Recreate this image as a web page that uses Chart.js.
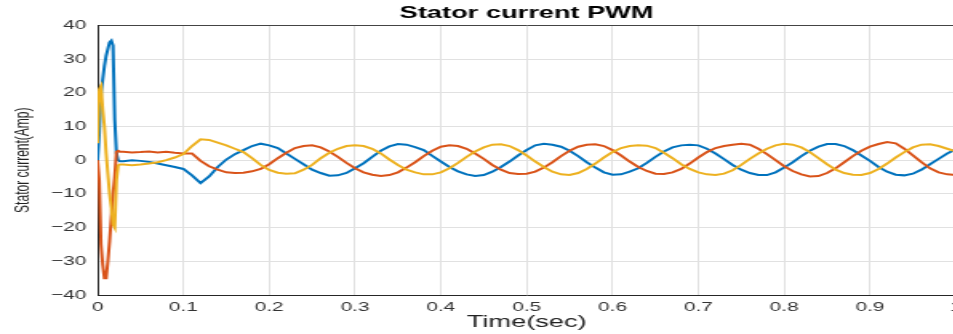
<!DOCTYPE html>
<html>
<head>
<meta charset="utf-8">
<title>Stator current PWM</title>
<script src="https://cdn.jsdelivr.net/npm/chart.js@4.4.1/dist/chart.umd.min.js"></script>
<style>
html, body { margin: 0; padding: 0; background: #fff; overflow: hidden; }
/* the original figure is stretched sideways, so the chart is drawn narrow and widened */
#wrap { width: 606px; height: 334px; transform: scaleX(1.6); transform-origin: 0 0; }
</style>
</head>
<body>
<div id="wrap"><canvas id="statorChart" width="606" height="334"></canvas></div>
<script>
// Time axis (sec) - fine steps through the start-up transient
const timeSec = [0, 0.002, 0.004, 0.006, 0.008, 0.01, 0.012, 0.014, 0.016, 0.018, 0.02, 0.022, 0.024, 0.026,
    0.03, 0.04, 0.05, 0.06, 0.07, 0.08, 0.09, 0.10,
    0.11, 0.12, 0.13, 0.14, 0.15, 0.16, 0.17, 0.18, 0.19, 0.20,
    0.21, 0.22, 0.23, 0.24, 0.25, 0.26, 0.27, 0.28, 0.29, 0.30,
    0.31, 0.32, 0.33, 0.34, 0.35, 0.36, 0.37, 0.38, 0.39, 0.40,
    0.41, 0.42, 0.43, 0.44, 0.45, 0.46, 0.47, 0.48, 0.49, 0.50,
    0.51, 0.52, 0.53, 0.54, 0.55, 0.56, 0.57, 0.58, 0.59, 0.60,
    0.61, 0.62, 0.63, 0.64, 0.65, 0.66, 0.67, 0.68, 0.69, 0.70,
    0.71, 0.72, 0.73, 0.74, 0.75, 0.76, 0.77, 0.78, 0.79, 0.80,
    0.81, 0.82, 0.83, 0.84, 0.85, 0.86, 0.87, 0.88, 0.89, 0.90,
    0.91, 0.92, 0.93, 0.94, 0.95, 0.96, 0.97, 0.98, 0.99, 1.00]

// Phase currents (Amp)
const phaseA = [0, 8, 20, 24, 28, 31, 33, 35, 35.5, 34, 12, 2, 0, -0.3,
    -0.3, 0, -0.2, -0.5, -1.0, -1.5, -2.0, -2.6,
    -4.5, -6.8, -4.8, -2.0, 0.2, 1.8, 3.0, 4.2, 4.9, 4.4,
    3.6, 2.0, 0.4, -1.2, -2.8, -3.8, -4.6, -4.5, -3.8, -2.4,
    -0.9, 1.0, 2.8, 4.1, 4.8, 4.6, 3.9, 3.0, 1.3, -0.4,
    -2.0, -3.3, -4.2, -4.7, -4.4, -3.4, -2.0, -0.4, 1.4, 3.0,
    4.4, 4.9, 4.6, 4.0, 2.8, 1.2, -0.6, -2.2, -3.6, -4.3,
    -4.2, -3.4, -2.4, -0.8, 1.0, 2.6, 3.8, 4.4, 4.6, 4.4,
    3.4, 2.0, 0.3, -1.4, -2.8, -3.8, -4.4, -4.4, -3.6, -2.2,
    -0.6, 1.2, 2.8, 4.0, 4.8, 4.8, 4.2, 3.0, 1.4, -0.2,
    -2.0, -3.4, -4.3, -4.5, -4.0, -2.8, -1.2, 0.4, 2.0, 3.2]

const phaseB = [0, -6, -25, -31, -35, -35, -30, -24, -17, -10, -5, 2.5, 2.8, 2.5,
    2.5, 2.3, 2.4, 2.6, 2.3, 2.5, 2.2, 2.0,
    2.0, -0.2, -1.8, -2.8, -3.6, -3.8, -3.7, -3.3, -2.6, -1.2,
    0.6, 2.2, 3.6, 4.2, 4.4, 3.8, 2.6, 1.0, -0.8, -2.4,
    -3.6, -4.3, -4.7, -4.4, -3.6, -2.2, -0.6, 1.2, 2.8, 4.0,
    4.4, 4.2, 3.4, 2.0, 0.4, -1.4, -2.8, -3.8, -4.1, -4.0,
    -3.4, -2.2, -0.6, 1.2, 2.8, 4.0, 4.6, 4.7, 4.2, 3.0,
    1.4, -0.4, -2.0, -3.2, -4.0, -4.1, -3.6, -2.6, -1.0, 0.8,
    2.4, 3.6, 4.2, 4.6, 4.9, 4.6, 3.4, 1.8, 0.0, -1.8,
    -3.2, -4.2, -4.8, -4.7, -3.8, -2.4, -0.6, 1.2, 2.8, 4.0,
    4.8, 5.4, 5.0, 3.4, 1.4, -0.6, -2.4, -3.6, -4.2, -4.4]

const phaseC = [5, 21, 22, 15, 10, 2, -4, -10, -14, -19, -20, -6, -1.5, -1.3,
    -1.3, -1.5, -1.3, -1.0, -0.6, 0.0, 0.8, 1.8,
    4.2, 6.2, 6.0, 5.2, 4.4, 3.4, 2.4, 0.6, -1.4, -2.9,
    -3.7, -4.0, -3.9, -2.8, -1.4, 0.6, 2.2, 3.4, 4.2, 4.4,
    4.2, 3.4, 2.0, 0.2, -1.4, -2.8, -3.6, -4.2, -4.2, -3.6,
    -2.4, -0.8, 1.0, 2.6, 3.8, 4.6, 4.7, 4.2, 3.0, 1.4,
    -0.4, -2.0, -3.4, -4.2, -4.4, -3.8, -2.6, -1.0, 0.8, 2.4,
    3.6, 4.2, 4.4, 4.3, 3.6, 2.2, 0.6, -1.2, -2.6, -3.6,
    -4.2, -4.4, -4.0, -3.0, -1.4, 0.4, 2.0, 3.4, 4.4, 4.9,
    4.6, 3.8, 2.4, 0.6, -1.2, -2.8, -3.8, -4.3, -4.4, -3.8,
    -2.6, -1.0, 0.8, 2.4, 3.8, 4.6, 4.7, 4.2, 3.4, 2.6]

// Tick labels
const xTickLabels = ['0', '0.1', '0.2', '0.3', '0.4', '0.5', '0.6', '0.7', '0.8', '0.9', '1']
const yTickLabels = ['\u221240', '\u221230', '\u221220', '\u221210', '0', '10', '20', '30', '40']

function toPoints(values) {
    return timeSec.map((t, i) => ({x: t, y: values[i]}))
}

Chart.defaults.font.family = "'Liberation Sans', Arial, Helvetica, sans-serif"

const gridColour = '#e1e1e1'
const axisColour = '#262626'

const config = {
    type: 'line',
    data: {
        datasets: [
            {label: 'Phase a', data: toPoints(phaseA), borderColor: 'rgb(0, 114, 189)', order: 3},
            {label: 'Phase b', data: toPoints(phaseB), borderColor: 'rgb(217, 83, 25)', order: 2},
            {label: 'Phase c', data: toPoints(phaseC), borderColor: 'rgb(237, 177, 32)', order: 1}
        ]
    },
    options: {
        responsive: false,
        animation: false,
        layout: {padding: {left: 0, right: 3, top: 0, bottom: 0}},
        elements: {
            point: {radius: 0},
            line: {borderWidth: 2, tension: 0, fill: false}
        },
        plugins: {
            legend: {display: false},
            tooltip: {enabled: false},
            title: {
                display: true,
                text: 'Stator current PWM',
                fullSize: false,
                color: '#000',
                font: {size: 17, weight: 'bold'},
                padding: {top: 3, bottom: 2}
            }
        },
        scales: {
            x: {
                type: 'linear',
                position: 'bottom',
                min: 0,
                max: 1,
                ticks: {
                    stepSize: 0.1,
                    autoSkip: false,
                    maxRotation: 0,
                    padding: 5,
                    color: '#333',
                    font: {size: 13},
                    callback: (value, index) => xTickLabels[index]
                },
                grid: {color: gridColour, drawTicks: false},
                border: {color: axisColour, width: 1},
                title: {
                    display: true,
                    text: 'Time(sec)',
                    color: '#222',
                    font: {size: 17},
                    padding: {top: 0, bottom: 1}
                },
                afterFit: scale => { scale.height = 39 }
            },
            x2: {
                type: 'linear',
                position: 'top',
                min: 0,
                max: 1,
                grid: {display: false},
                ticks: {display: false},
                border: {display: true, color: '#444', width: 1},
                afterFit: scale => { scale.height = 0 }
            },
            y: {
                type: 'linear',
                min: -40,
                max: 40,
                ticks: {
                    stepSize: 10,
                    padding: 7,
                    color: '#333',
                    font: {size: 13},
                    callback: (value, index) => yTickLabels[index]
                },
                grid: {color: gridColour, drawTicks: false},
                border: {color: axisColour, width: 1},
                title: {
                    display: true,
                    text: 'Stator current(Amp)',
                    color: '#222',
                    font: {size: 12},
                    padding: {top: 7, bottom: 0}
                },
                afterFit: scale => { scale.width = 61 }
            }
        }
    }
}

const statorChart = new Chart(document.getElementById('statorChart'), config)
</script>
</body>
</html>
